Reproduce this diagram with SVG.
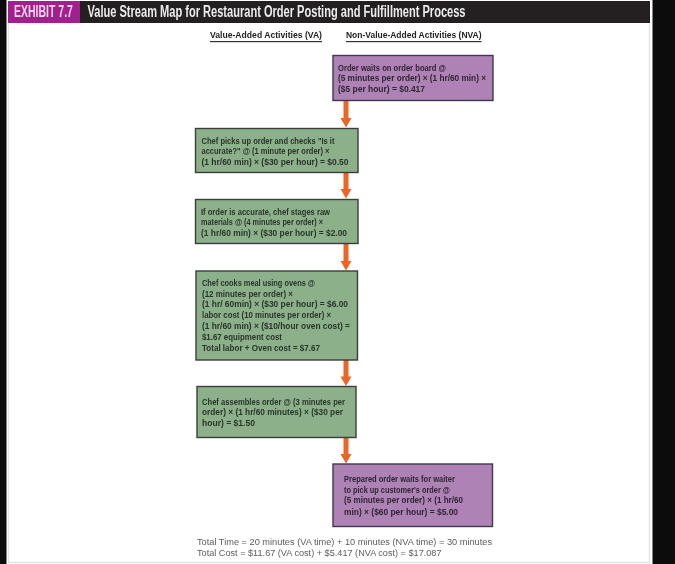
<svg xmlns="http://www.w3.org/2000/svg" width="675" height="564" viewBox="0 0 675 564">
<style>
.va{fill:#8cb08a;stroke:#3a3f3a;stroke-width:1.4}
.nva{fill:#ae82b4;stroke:#40384a;stroke-width:1.4}
text{font-family:"Liberation Sans",Arial,sans-serif}
.t{font-size:8.5px;font-weight:700;fill:#2a352b;filter:url(#s)}
.p{fill:#2f2536}
.h{font-size:8.5px;font-weight:700;fill:#222;filter:url(#s)}
.f{font-size:9.6px;fill:#5c5c5c;filter:url(#s)}
.w{font-size:16px;font-weight:700;filter:url(#s)}
.c{stroke:#ec6527;stroke-width:5;fill:none}
.ah{fill:#ec6527}
</style>
<defs>
<filter id="s" x="-5%" y="-30%" width="110%" height="160%"><feGaussianBlur stdDeviation="0.4"/></filter>
</defs>
<rect width="675" height="564" fill="#ffffff"/>
<rect x="0" y="0" width="6.5" height="564" fill="#0c0c0c"/>
<rect x="652.5" y="0" width="22.5" height="564" fill="#0c0c0c"/>
<path d="M8.5,22V562.5H649.5V22" fill="none" stroke="#dfe5e5" stroke-width="1.4"/>
<g id="header">
<rect x="8" y="1" width="642" height="22" fill="#242022"/>
<rect x="8" y="1" width="72" height="22" fill="#a21f8d"/>
<text class="w" transform="translate(14 17) scale(.657 1)" fill="#f0d6ec">EXHIBIT 7.7</text>
<text class="w" x="87.500" y="17" fill="#ececec" textLength="378" lengthAdjust="spacingAndGlyphs">Value Stream Map for Restaurant Order Posting and Fulfillment Process</text>
</g>
<g id="columns">
<text class="h" x="210" y="38" textLength="112" lengthAdjust="spacingAndGlyphs">Value-Added Activities (VA)</text>
<rect x="210" y="41" width="112" height="1.2" fill="#333"/>
<text class="h" x="346" y="38" textLength="135.500" lengthAdjust="spacingAndGlyphs">Non-Value-Added Activities (NVA)</text>
<rect x="346" y="41" width="135.500" height="1.2" fill="#333"/>
</g>
<g id="connectors">
<path class="c" d="M346,100.500V119"/><path class="ah" d="M340.500,118H351.500L346,127.500Z"/>
<path class="c" d="M346,172.500V190"/><path class="ah" d="M340.500,189H351.500L346,198.500Z"/>
<path class="c" d="M346,243.500V262"/><path class="ah" d="M340.500,261H351.500L346,270.500Z"/>
<path class="c" d="M346,360V377.500"/><path class="ah" d="M340.500,376.500H351.500L346,386Z"/>
<path class="c" d="M346,437.500V455"/><path class="ah" d="M340.500,454H351.500L346,463.500Z"/>
</g>
<g id="n1">
<rect class="nva" x="333" y="55.500" width="160" height="45"/>
<text class="t p" x="338" y="70.500" textLength="108" lengthAdjust="spacingAndGlyphs">Order waits on order board @</text>
<text class="t p" x="338" y="81" textLength="148" lengthAdjust="spacingAndGlyphs">(5 minutes per order) × (1 hr/60 min) ×</text>
<text class="t p" x="338" y="91.500" textLength="87" lengthAdjust="spacingAndGlyphs">($5 per hour) = $0.417</text>
</g>
<g id="n2">
<rect class="va" x="195.500" y="128.500" width="162.500" height="44"/>
<text class="t" x="201.500" y="143.500" textLength="133" lengthAdjust="spacingAndGlyphs">Chef picks up order and checks "Is it</text>
<text class="t" x="201.500" y="154" textLength="128" lengthAdjust="spacingAndGlyphs">accurate?" @ (1 minute per order) ×</text>
<text class="t" x="201.500" y="164.500" textLength="147" lengthAdjust="spacingAndGlyphs">(1 hr/60 min) × ($30 per hour) = $0.50</text>
</g>
<g id="n3">
<rect class="va" x="195.500" y="199.500" width="162.500" height="44"/>
<text class="t" x="201" y="214.500" textLength="129" lengthAdjust="spacingAndGlyphs">If order is accurate, chef stages raw</text>
<text class="t" x="201" y="225" textLength="122" lengthAdjust="spacingAndGlyphs">materials @ (4 minutes per order) ×</text>
<text class="t" x="201" y="235.500" textLength="146" lengthAdjust="spacingAndGlyphs">(1 hr/60 min) × ($30 per hour) = $2.00</text>
</g>
<g id="n4">
<rect class="va" x="196" y="271" width="161.500" height="89"/>
<text class="t" x="202" y="286" textLength="113" lengthAdjust="spacingAndGlyphs">Chef cooks meal using ovens @</text>
<text class="t" x="202" y="296.500" textLength="91" lengthAdjust="spacingAndGlyphs">(12 minutes per order) ×</text>
<text class="t" x="202" y="307" textLength="146" lengthAdjust="spacingAndGlyphs">(1 hr/ 60min) × ($30 per hour) = $6.00</text>
<text class="t" x="202" y="318" textLength="129" lengthAdjust="spacingAndGlyphs">labor cost (10 minutes per order) ×</text>
<text class="t" x="202" y="329" textLength="148" lengthAdjust="spacingAndGlyphs">(1 hr/60 min) × ($10/hour oven cost) =</text>
<text class="t" x="202" y="340" textLength="80" lengthAdjust="spacingAndGlyphs">$1.67 equipment cost</text>
<text class="t" x="202" y="350.500" textLength="118" lengthAdjust="spacingAndGlyphs">Total labor + Oven cost = $7.67</text>
</g>
<g id="n5">
<rect class="va" x="197" y="386.500" width="159" height="51"/>
<text class="t" x="202" y="404.500" textLength="143" lengthAdjust="spacingAndGlyphs">Chef assembles order @ (3 minutes per</text>
<text class="t" x="202" y="415" textLength="141" lengthAdjust="spacingAndGlyphs">order) × (1 hr/60 minutes) × ($30 per</text>
<text class="t" x="202" y="425.500" textLength="53" lengthAdjust="spacingAndGlyphs">hour) = $1.50</text>
</g>
<g id="n6">
<rect class="nva" x="333" y="464" width="159.500" height="62.500"/>
<text class="t p" x="344" y="482" textLength="111" lengthAdjust="spacingAndGlyphs">Prepared order waits for waiter</text>
<text class="t p" x="344" y="492.500" textLength="106" lengthAdjust="spacingAndGlyphs">to pick up customer's order @</text>
<text class="t p" x="344" y="503" textLength="119" lengthAdjust="spacingAndGlyphs">(5 minutes per order) × (1 hr/60</text>
<text class="t p" x="344" y="515" textLength="114" lengthAdjust="spacingAndGlyphs">min) × ($60 per hour) = $5.00</text>
</g>
<g id="totals">
<text class="f" x="197" y="545" textLength="295" lengthAdjust="spacingAndGlyphs">Total Time = 20 minutes (VA time) + 10 minutes (NVA time) = 30 minutes</text>
<text class="f" x="197" y="556" textLength="244.500" lengthAdjust="spacingAndGlyphs">Total Cost = $11.67 (VA cost) + $5.417 (NVA cost) = $17.087</text>
</g>
</svg>
